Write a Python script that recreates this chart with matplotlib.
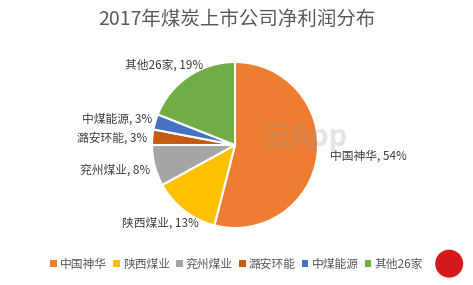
import matplotlib
matplotlib.use("Agg")
import matplotlib.pyplot as plt
from matplotlib.patches import Patch, Circle

plt.rcParams["font.family"] = ["Noto Sans CJK SC", "DejaVu Sans"]

# data
companies = ["中国神华", "陕西煤业", "兖州煤业", "潞安环能", "中煤能源", "其他26家"]
shares = [54, 13, 8, 3, 3, 19]
colors = ["#ED7D31", "#FFC000", "#A5A5A5", "#C55A11", "#4472C4", "#70AD47"]
title = "2017年煤炭上市公司净利润分布"

# label placement (data units, pie radius = 1), with alignment
label_pos = [(1.14, -0.14, "left"), (-0.44, -0.94, "right"), (-1.02, -0.30, "right"),
             (-1.06, 0.08, "right"), (-1.00, 0.31, "right"), (-0.38, 0.96, "right")]

fig = plt.figure(figsize=(4.73, 2.85), dpi=100)
ax = fig.add_axes([0, 0, 1, 1])

wedges, _ = ax.pie(shares, colors=colors, startangle=90, counterclock=False,
                   radius=1.0, wedgeprops=dict(edgecolor="white", linewidth=1.5))

# limits chosen so that 1 data unit = 83 px and pie centre sits at (235, 145) px
ax.set_aspect("auto")
ax.set_xlim(-2.831, 2.867)
ax.set_ylim(-1.687, 1.747)
ax.axis("off")

for name, val, (x, y, ha) in zip(companies, shares, label_pos):
    ax.text(x, y, f"{name}, {val}%", ha=ha, va="center", fontsize=8.5, color="#404040")

# faint watermark
ax.text(0.33, 0.10, "云App", fontsize=21, color="#999999", alpha=0.25,
        ha="left", va="center", fontweight="bold")

fig.text(0.5, 0.93, title, ha="center", va="center", fontsize=14, color="#595959")

handles = [Patch(facecolor=c, edgecolor="none") for c in colors]
fig.legend(handles, companies, loc="center", bbox_to_anchor=(0.50, 0.072), ncol=6,
           frameon=False, fontsize=8.5, handlelength=0.55, handleheight=0.55,
           handletextpad=0.25, columnspacing=0.55, labelcolor="#595959")

# small red badge in the corner
ax.add_patch(Circle((2.58, -1.43), 0.16, color="#D7191C", clip_on=False))

fig.savefig("out.png", dpi=100)
